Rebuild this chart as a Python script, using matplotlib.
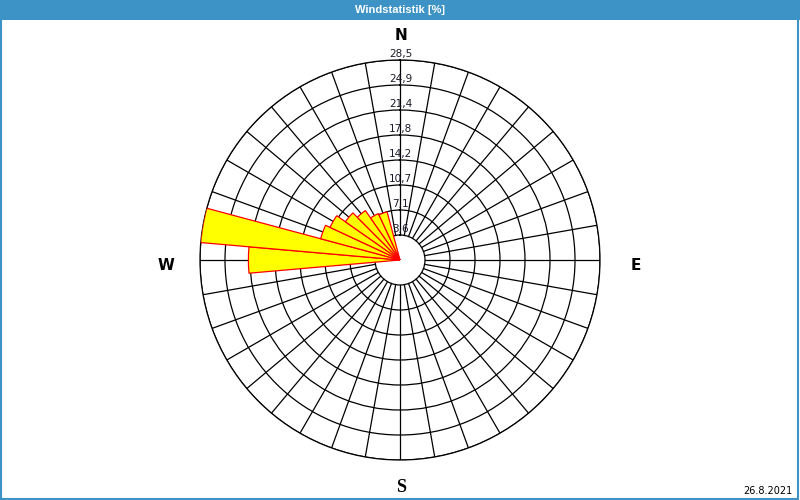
import matplotlib
matplotlib.use("Agg")
import matplotlib.pyplot as plt
from matplotlib.patches import Rectangle
import numpy as np

# Windrichtungen (Grad) und Anteile in %
richtung = [10, 20, 30, 40, 50, 60, 70, 80, 90, 100, 110, 120,
            130, 140, 150, 160, 170, 180, 190, 200, 210, 220, 230, 240,
            250, 260, 270, 280, 290, 300, 310, 320, 330, 340, 350, 360]
anteil = [0, 0, 0, 0, 0, 0, 0, 0, 0, 0, 0, 0,
          0, 0, 0, 0, 0, 0, 0, 0, 0, 0, 0, 0,
          0, 0, 21.6, 28.5, 11.7, 11.0, 9.5, 8.6, 7.3, 7.1, 0, 0]
ring_werte = [3.5625, 7.125, 10.6875, 14.25, 17.8125, 21.375, 24.9375, 28.5]
ring_labels = ["3,6", "7,1", "10,7", "14,2", "17,8", "21,4", "24,9", "28,5"]
himmel = ["N", "E", "S", "W"]
titel = "Windstatistik [%]"
datum = "26.8.2021"

blau = "#3d93c6"

fig = plt.figure(figsize=(8, 5), dpi=100)
fig.patch.set_facecolor("white")

# Titelleiste und Rahmen
fig.patches.append(Rectangle((0, 480/500), 1, 20/500, transform=fig.transFigure,
                             facecolor=blau, edgecolor="none", zorder=0))
fig.patches.append(Rectangle((0.001, 0.002), 0.997, 0.996, transform=fig.transFigure,
                             facecolor="none", edgecolor=blau, lw=1.5, zorder=5))
fig.text(0.5, 1 - 10/500, titel, color="white", ha="center", va="center",
         fontsize=8, fontweight="bold", family="Liberation Sans")

ax = fig.add_axes([0.25, 0.08, 0.5, 0.8], projection="polar")
ax.set_theta_zero_location("N")
ax.set_theta_direction(-1)
ax.set_ylim(0, ring_werte[-1])
ax.set_facecolor("white")

ax.set_yticks(ring_werte)
ax.set_yticklabels([])
ax.set_xticks([])
ax.yaxis.grid(True, color="black", lw=0.9)
ax.xaxis.grid(False)
ax.spines["polar"].set_color("black")
ax.spines["polar"].set_linewidth(0.9)

# Speichen alle 10 Grad, ab dem ersten Ring
for w in range(0, 360, 10):
    t = np.deg2rad(w)
    ax.plot([t, t], [ring_werte[0], ring_werte[-1]], color="black", lw=0.9, zorder=2)

# Sektoren
theta = np.deg2rad(richtung)
werte = np.array(anteil)
m = werte > 0
ax.bar(theta[m], werte[m], width=np.deg2rad(10), bottom=0, color="#ffff00",
       edgecolor="#ff0000", lw=0.9, zorder=3)

for r, lab in zip(ring_werte, ring_labels):
    ax.annotate(lab, xy=(0, r), xytext=(0.5, 2.2), textcoords="offset points",
                ha="center", va="baseline", fontsize=7.5, color="#1a1a2a", zorder=4)

# Himmelsrichtungen
pos = {"N": (401, 36), "E": (636, 265), "S": (401, 488), "W": (166, 265)}
for h in himmel:
    x, y = pos[h]
    if h == "S":
        fam, fs = "Liberation Serif", 13
    else:
        fam, fs = "DejaVu Sans", 11
    fig.text(x/800, 1 - y/500, h, ha="center", va="center", fontsize=fs,
             fontweight="bold", family=fam)

fig.text(793/800, 1 - 491/500, datum, ha="right", va="center", fontsize=7)

fig.savefig("out.png", dpi=100)
